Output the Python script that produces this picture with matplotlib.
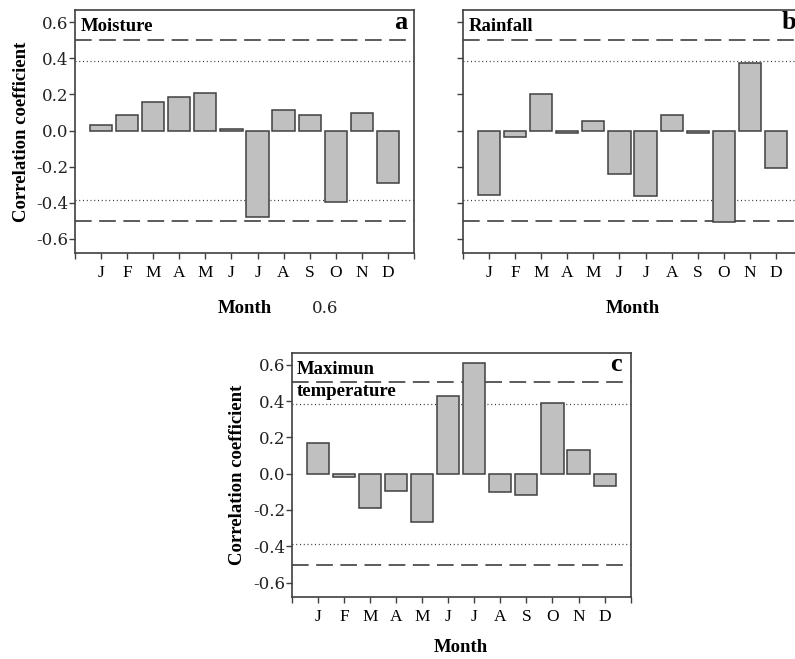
import matplotlib
matplotlib.use("Agg")
import matplotlib.pyplot as plt

months = ["J", "F", "M", "A", "M", "J", "J", "A", "S", "O", "N", "D"]
moisture = [0.03, 0.085, 0.157, 0.185, 0.205, 0.006, -0.48, 0.115, 0.085, -0.393, 0.098, -0.293]
rainfall = [-0.355, -0.035, 0.20, -0.015, 0.052, -0.243, -0.365, 0.087, -0.015, -0.505, 0.372, -0.206]
max_temp = [0.172, -0.02, -0.187, -0.094, -0.265, 0.43, 0.609, -0.102, -0.115, 0.387, 0.131, -0.065]
sig_95 = 0.386   # dotted lines
sig_99 = 0.503   # dashed lines
yticks = [-0.6, -0.4, -0.2, 0.0, 0.2, 0.4, 0.6]

SERIF = ["Liberation Serif", "DejaVu Serif"]
EDGE = "#404040"
FILL = "#c0c0c0"

fig = plt.figure(figsize=(7.95, 6.59), dpi=100)


def panel(rect, values, name, letter, letter_x, show_ylabels=True, name_y=0.934, xlabelpad=13.5):
    ax = fig.add_axes(rect)
    x = list(range(1, len(values) + 1))
    ax.bar(x, values, width=0.85, color=FILL, edgecolor=EDGE, linewidth=1.1, zorder=3)
    for s in (sig_99, -sig_99):
        ax.axhline(s, color=EDGE, lw=1.2, linestyle=(0, (10, 4.5)), zorder=2)
    for s in (sig_95, -sig_95):
        ax.axhline(s, color="#333333", lw=0.9, linestyle=(0, (0.8, 2.2)), zorder=2)
    ax.set_xlim(0, 13)
    ax.set_ylim(-0.678, 0.667)
    ax.set_xticks(range(0, 14))
    ax.set_xticklabels([""] + months + [""], family=SERIF, fontsize=12.5)
    ax.set_yticks(yticks)
    if show_ylabels:
        ax.set_yticklabels(["%.1f" % v for v in yticks], family="DejaVu Serif", fontsize=12,
                           color="#222222")
        ax.set_ylabel("Correlation coefficient", family=SERIF, fontweight="bold",
                      fontsize=13.5, labelpad=5)
    else:
        ax.set_yticklabels([])
    ax.tick_params(axis="both", direction="out", length=4, width=1, color=EDGE)
    ax.tick_params(axis="x", pad=4.7)
    ax.tick_params(axis="y", pad=0.5)
    for sp in ax.spines.values():
        sp.set_color(EDGE)
        sp.set_linewidth(1.2)
    ax.set_xlabel("Month", family=SERIF, fontweight="bold", fontsize=13.5, labelpad=xlabelpad)
    ax.text(0.016, name_y, name, transform=ax.transAxes, family=SERIF, fontweight="bold",
            fontsize=13.5, ha="left", va="center", linespacing=1.45)
    ax.text(letter_x, 0.95, letter, transform=ax.transAxes, family=SERIF, fontweight="bold",
            fontsize=19, ha="right", va="center")
    return ax


panel([0.0943, 0.6161, 0.4264, 0.3687], moisture, "Moisture", "a", 0.982)
panel([0.5824, 0.6161, 0.4264, 0.3687], rainfall, "Rainfall", "b", 0.982, show_ylabels=False)
panel([0.3669, 0.0945, 0.4264, 0.3703], max_temp, "Maximun\ntemperature", "c", 0.974,
      name_y=0.886, xlabelpad=10.5)

# stray label present in the original figure
fig.text(325 / 795, 1 - 309 / 659, "0.6", family="DejaVu Serif", fontsize=12,
         ha="center", va="center", color="#222222")

fig.savefig("out.png", dpi=100)
